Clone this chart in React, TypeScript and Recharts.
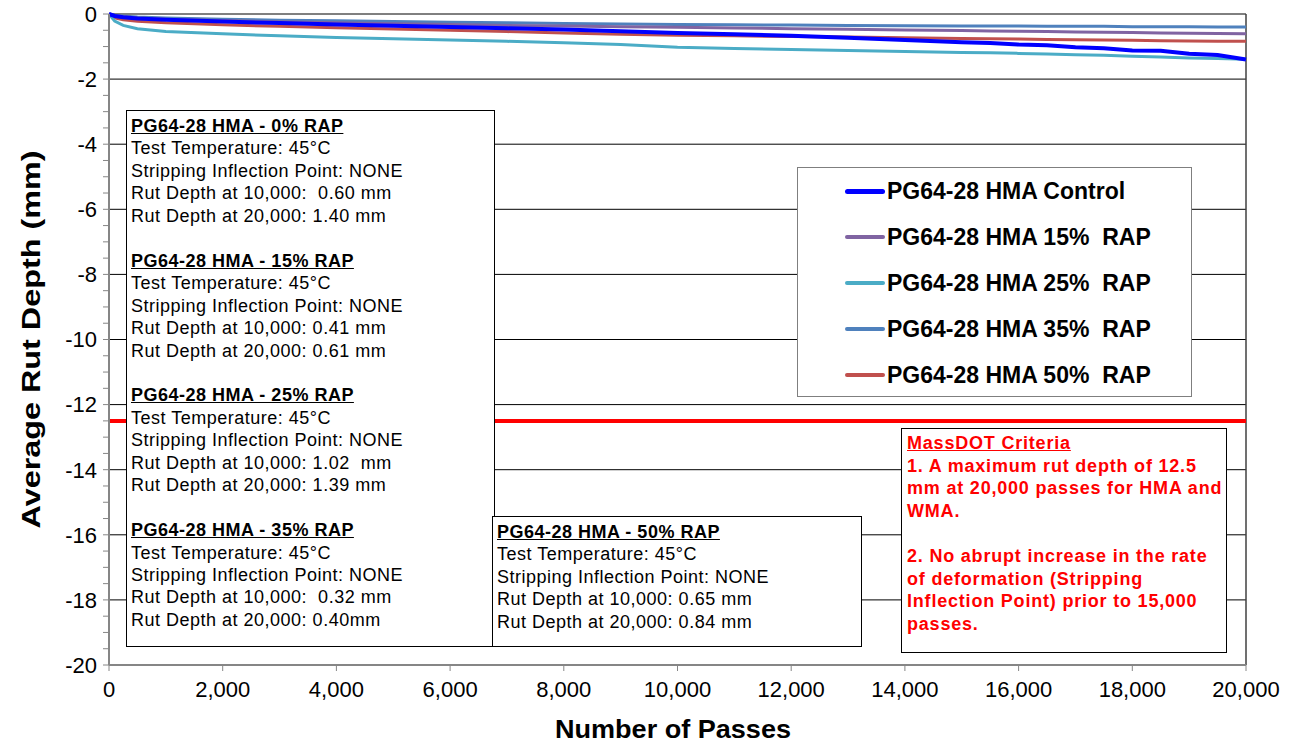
import React from 'react'
import {
    LineChart,
    Line,
    XAxis,
    YAxis,
    CartesianGrid,
    ReferenceLine,
    Legend,
} from 'recharts'

const FONT = '"Liberation Sans", Arial, sans-serif'

// x values (number of passes)
const PASSES = [
    0, 100, 250, 500, 1000, 2000, 3000, 4000, 5000, 6000, 7000, 8000, 9000,
    10000, 11000, 12000, 13000, 14000, 15000, 15500, 16000, 16500, 17000,
    17500, 18000, 18500, 19000, 19500, 20000,
]

// average rut depth (mm)
const CONTROL = [
    0, -0.06, -0.1, -0.14, -0.18, -0.23, -0.28, -0.32, -0.36, -0.4, -0.44,
    -0.48, -0.53, -0.58, -0.62, -0.67, -0.73, -0.8, -0.87, -0.89, -0.94,
    -0.96, -1.02, -1.05, -1.12, -1.13, -1.22, -1.26, -1.4,
]
const RAP15 = [
    0, -0.05, -0.08, -0.12, -0.16, -0.2, -0.24, -0.27, -0.3, -0.32, -0.35,
    -0.37, -0.39, -0.41, -0.43, -0.45, -0.47, -0.49, -0.51, -0.52, -0.53,
    -0.54, -0.55, -0.56, -0.57, -0.58, -0.59, -0.6, -0.61,
]
const RAP25 = [
    0, -0.22, -0.35, -0.45, -0.54, -0.61, -0.67, -0.72, -0.76, -0.8, -0.84,
    -0.88, -0.94, -1.02, -1.06, -1.09, -1.12, -1.15, -1.18, -1.19, -1.21,
    -1.23, -1.25, -1.27, -1.3, -1.32, -1.35, -1.37, -1.39,
]
const RAP35 = [
    0, -0.04, -0.06, -0.09, -0.12, -0.16, -0.19, -0.21, -0.23, -0.25, -0.27,
    -0.29, -0.31, -0.32, -0.33, -0.34, -0.35, -0.36, -0.37, -0.37, -0.37,
    -0.38, -0.38, -0.38, -0.39, -0.39, -0.39, -0.4, -0.4,
]
const RAP50 = [
    0, -0.12, -0.18, -0.22, -0.27, -0.33, -0.38, -0.42, -0.46, -0.5, -0.54,
    -0.58, -0.62, -0.65, -0.67, -0.69, -0.71, -0.73, -0.75, -0.76, -0.77,
    -0.78, -0.79, -0.8, -0.81, -0.82, -0.83, -0.835, -0.84,
]

const X_TICKS = [0, 2000, 4000, 6000, 8000, 10000, 12000, 14000, 16000, 18000, 20000]
const Y_TICKS = Array.from({ length: 41 }, (_, i) => -i * 0.5)
const Y_GRID = [0, -2, -4, -6, -8, -10, -12, -14, -16, -18]
const CRITERIA_DEPTH = -12.5

const SERIES = [
    { key: 'control', name: 'PG64-28 HMA Control', color: '#0000FF', width: 4 },
    { key: 'rap15', name: 'PG64-28 HMA 15%  RAP', color: '#8064A2', width: 3 },
    { key: 'rap25', name: 'PG64-28 HMA 25%  RAP', color: '#4BACC6', width: 3 },
    { key: 'rap35', name: 'PG64-28 HMA 35%  RAP', color: '#4F81BD', width: 3 },
    { key: 'rap50', name: 'PG64-28 HMA 50%  RAP', color: '#C0504D', width: 3 },
]

const data = PASSES.map((p, i) => ({
    passes: p,
    control: CONTROL[i],
    rap15: RAP15[i],
    rap25: RAP25[i],
    rap35: RAP35[i],
    rap50: RAP50[i],
}))

const INFO_LEFT = [
    { title: 'PG64-28 HMA - 0% RAP', d10: ' 0.60 mm', d20: '1.40 mm' },
    { title: 'PG64-28 HMA - 15% RAP', d10: '0.41 mm', d20: '0.61 mm' },
    { title: 'PG64-28 HMA - 25% RAP', d10: '1.02  mm', d20: '1.39 mm' },
    { title: 'PG64-28 HMA - 35% RAP', d10: ' 0.32 mm', d20: '0.40mm' },
]
const INFO_50 = { title: 'PG64-28 HMA - 50% RAP', d10: '0.65 mm', d20: '0.84 mm' }

const CRITERIA_LINES = [
    '1. A maximum rut depth of 12.5',
    'mm at 20,000 passes for HMA and',
    'WMA.',
    '',
    '2. No abrupt increase in the rate',
    'of deformation (Stripping',
    'Inflection Point) prior to 15,000',
    'passes.',
]

const boxStyle: React.CSSProperties = {
    position: 'absolute',
    background: '#fff',
    border: '1.5px solid #000',
    boxSizing: 'border-box',
    fontFamily: FONT,
    fontSize: 18,
    letterSpacing: 0.5,
    lineHeight: '22.45px',
    whiteSpace: 'pre',
    color: '#000',
    padding: '4px 0 0 4px',
}

const InfoBlock = ({ info }: { info: typeof INFO_50 }) => (
    <div>
        <div style={{ fontWeight: 'bold', textDecoration: 'underline' }}>{info.title}</div>
        <div>Test Temperature: 45°C</div>
        <div>Stripping Inflection Point: NONE</div>
        <div>{`Rut Depth at 10,000: ${info.d10}`}</div>
        <div>{`Rut Depth at 20,000: ${info.d20}`}</div>
    </div>
)

const LegendBox = () => (
    <div
        style={{
            width: 395,
            height: 230,
            boxSizing: 'border-box',
            border: '1.5px solid #7f7f7f',
            background: '#fff',
            paddingTop: 0,
            fontFamily: FONT,
        }}
    >
        {SERIES.map((s) => (
            <div
                key={s.key}
                style={{ display: 'flex', alignItems: 'center', height: 46 }}
            >
                <div
                    style={{
                        marginLeft: 47,
                        width: 40,
                        height: s.width + 1,
                        borderRadius: 3,
                        background: s.color,
                    }}
                />
                <span
                    style={{
                        marginLeft: 2,
                        fontSize: 23,
                        fontWeight: 'bold',
                        whiteSpace: 'pre',
                        color: '#000',
                    }}
                >
                    {s.name}
                </span>
            </div>
        ))}
    </div>
)

const YTitle = (props: any) => {
    const vb = props.viewBox || { x: 0, y: 14, width: 109, height: 651 }
    const cx = vb.x + 31
    const cy = vb.y + vb.height / 2
    return (
        <text
            x={cx}
            y={cy}
            transform={`rotate(-90 ${cx} ${cy})`}
            textAnchor="middle"
            dominantBaseline="central"
            fontFamily={FONT}
            fontWeight="bold"
            fontSize={25}
            textLength={378}
            lengthAdjust="spacingAndGlyphs"
            fill="#000"
        >
            Average Rut Depth  (mm)
        </text>
    )
}

const XTitle = (props: any) => {
    const vb = props.viewBox || { x: 109, y: 665, width: 1137, height: 85 }
    const cx = 673
    const cy = vb.y + 64
    return (
        <text
            x={cx}
            y={cy}
            textAnchor="middle"
            dominantBaseline="central"
            fontFamily={FONT}
            fontWeight="bold"
            fontSize={25}
            textLength={236}
            lengthAdjust="spacingAndGlyphs"
            fill="#000"
        >
            Number of Passes
        </text>
    )
}

const App = () => {
    return (
        <div style={{ position: 'absolute', left: 0, top: 0, width: 1302, height: 750, background: '#fff' }}>
            <LineChart
                width={1302}
                height={750}
                data={data}
                margin={{ top: 14, right: 56, bottom: 0, left: 0 }}
            >
                <CartesianGrid
                    vertical={false}
                    horizontalValues={Y_GRID}
                    stroke="#000"
                    strokeWidth={1}
                />
                <XAxis
                    dataKey="passes"
                    type="number"
                    domain={[0, 20000]}
                    ticks={X_TICKS}
                    interval={0}
                    height={85}
                    tickSize={6}
                    tickMargin={10}
                    tickFormatter={(v: number) => v.toLocaleString('en-US')}
                    tick={{ fontFamily: FONT, fontSize: 22, fill: '#000' }}
                    stroke="#868686"
                    axisLine={{ stroke: '#868686', strokeWidth: 2 }}
                    tickLine={{ stroke: '#868686' }}
                    label={<XTitle />}
                />
                <YAxis
                    type="number"
                    domain={[-20, 0]}
                    ticks={Y_TICKS}
                    interval={0}
                    width={109}
                    tickSize={6}
                    tickMargin={6}
                    tickFormatter={(v: number) => (v % 2 === 0 ? String(v) : '')}
                    tick={{ fontFamily: FONT, fontSize: 22, fill: '#000' }}
                    axisLine={{ stroke: '#868686', strokeWidth: 2 }}
                    tickLine={{ stroke: '#868686' }}
                    label={<YTitle />}
                />
                <ReferenceLine x={20000} stroke="#404040" strokeWidth={1.5} />
                <ReferenceLine y={CRITERIA_DEPTH} stroke="#FF0000" strokeWidth={4} />
                {[...SERIES].reverse().map((s) => (
                    <Line
                        key={s.key}
                        type="linear"
                        dataKey={s.key}
                        name={s.name}
                        stroke={s.color}
                        strokeWidth={s.width}
                        dot={false}
                        isAnimationActive={false}
                    />
                ))}
                <Legend
                    layout="horizontal"
                    verticalAlign="middle"
                    align="center"
                    content={() => <LegendBox />}
                    wrapperStyle={{ left: 797, top: 167, width: 395, height: 230 }}
                />
            </LineChart>

            <div style={{ ...boxStyle, left: 126, top: 110, width: 369, height: 537 }}>
                {INFO_LEFT.map((info, i) => (
                    <div key={info.title} style={{ marginTop: i === 0 ? 0 : 22.45 }}>
                        <InfoBlock info={info} />
                    </div>
                ))}
            </div>
            <div style={{ ...boxStyle, left: 492, top: 516, width: 370, height: 131 }}>
                <InfoBlock info={INFO_50} />
            </div>
            <div
                style={{
                    ...boxStyle,
                    left: 901,
                    top: 428,
                    width: 326,
                    height: 225,
                    color: '#FF0000',
                    fontWeight: 'bold',
                    fontSize: 18,
                    letterSpacing: 0.8,
                    lineHeight: '22.6px',
                    paddingLeft: 5,
                    paddingTop: 3,
                }}
            >
                <div style={{ textDecoration: 'underline' }}>MassDOT Criteria</div>
                {CRITERIA_LINES.map((line, i) => (
                    <div key={i} style={{ height: 22.6 }}>{line}</div>
                ))}
            </div>
        </div>
    )
}

export default App
